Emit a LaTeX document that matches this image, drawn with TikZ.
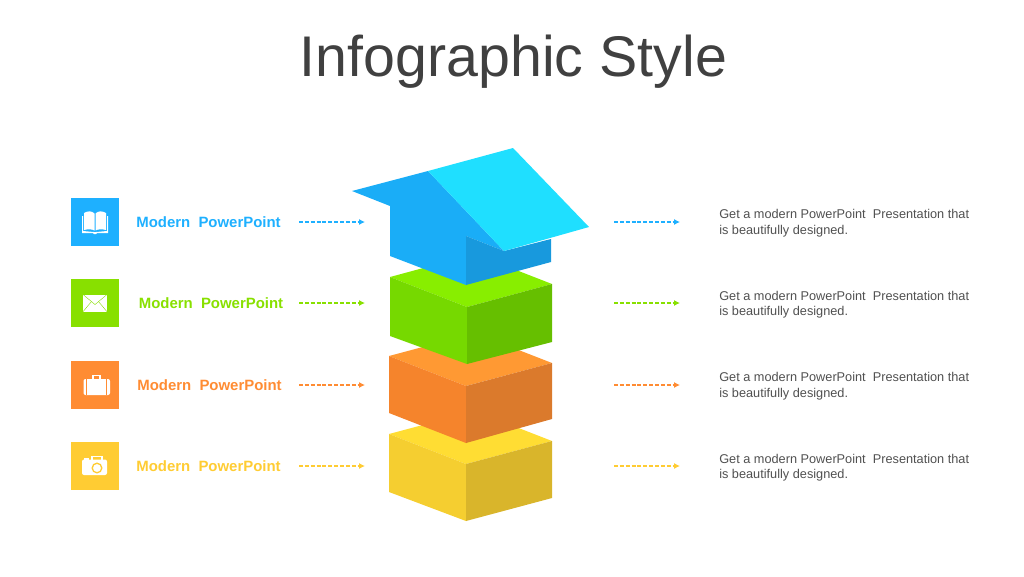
\documentclass[tikz,border=0pt]{standalone}
\usepackage{fontspec}
\usetikzlibrary{arrows.meta}
\setmainfont{Liberation Sans}
\definecolor{blueA}{HTML}{1AADF7}
\definecolor{blueB}{HTML}{1FDFFF}
\definecolor{blueC}{HTML}{1899DD}
\definecolor{blueI}{HTML}{1EB0FF}
\definecolor{greenA}{HTML}{76D900}
\definecolor{greenB}{HTML}{88EE00}
\definecolor{greenC}{HTML}{66BF00}
\definecolor{greenI}{HTML}{88E000}
\definecolor{orangeA}{HTML}{F5842C}
\definecolor{orangeB}{HTML}{FF9933}
\definecolor{orangeC}{HTML}{DB7A2C}
\definecolor{orangeI}{HTML}{FF8C33}
\definecolor{yellowA}{HTML}{F5CE30}
\definecolor{yellowB}{HTML}{FFDD33}
\definecolor{yellowC}{HTML}{D9B52B}
\definecolor{yellowI}{HTML}{FFCC33}
\definecolor{titlegray}{HTML}{404040}
\definecolor{notegray}{HTML}{505050}
\begin{document}
\begin{tikzpicture}[x=0.75pt,y=-0.75pt,
  tag/.style={font=\fontsize{11.2}{13}\selectfont\bfseries,inner sep=0pt},
  note/.style={font=\fontsize{9.55}{11.6}\selectfont,text=notegray,align=left,anchor=west,inner sep=0pt},
  link/.style={dash pattern=on 3pt off 1.4pt,-{Latex[length=4.5pt,width=4.5pt]},line width=0.8pt},
  tile/.style={minimum size=36pt,inner sep=0pt}]
\useasboundingbox (0,0) rectangle (1024,576);
\node[font=\fontsize{43}{50}\selectfont,text=titlegray,inner sep=0pt] (title) at (513.5,62) {Infographic Style};
% yellow box
\fill[yellowB] (389,434)--(475,411)--(552,441)--(466,464)--cycle;
\fill[yellowA] (389,434)--(466,464)--(466,521)--(389,492)--cycle;
\fill[yellowC] (466,464)--(552,441)--(552,498)--(466,521)--cycle;
% orange box
\fill[orangeB] (389,356)--(475,333)--(552,363)--(466,386)--cycle;
\fill[orangeA] (389,356)--(466,386)--(466,443)--(389,413)--cycle;
\fill[orangeC] (466,386)--(552,363)--(552,419)--(466,443)--cycle;
% green box
\fill[greenB] (390,277)--(475,254)--(552,284)--(467,307)--cycle;
\fill[greenA] (390,277)--(467,307)--(467,364)--(390,336)--cycle;
\fill[greenC] (467,307)--(552,284)--(552,342)--(467,364)--cycle;
% house
\fill[blueA] (352,191)--(428,171)--(504,251)--(466,236)--(466,285)--(390,256)--(390,206)--cycle;
\fill[blueC] (466,236)--(504,251)--(551,239)--(551,262)--(466,285)--cycle;
\fill[blueB] (428,171)--(513,148)--(589,227)--(504,251)--cycle;
% tiles
\node[tile,fill=blueI] (tileA) at (95,222) {};
\node[tile,fill=greenI] (tileB) at (95,303) {};
\node[tile,fill=orangeI] (tileC) at (95,385) {};
\node[tile,fill=yellowI] (tileD) at (95,466) {};
% book
\fill[white] (82,233)--(82,216)--(83,216)--(83,231)--(94,232)--(96,232)--(107,231)--(107,216)--(108,216)--(108,233)--(97,233)--(96,234)--(94,234)--(93,233)--cycle;
\fill[white] (84,213)..controls (88,210.5) and (92,211) .. (94.5,213.5)--(94.5,230.5)..controls (92,229) and (88,229) .. (84,230)--cycle;
\fill[white] (106,213)..controls (102,210.5) and (98,211) .. (95.5,213.5)--(95.5,230.5)..controls (98,229) and (102,229) .. (106,230)--cycle;
% envelope
\fill[white] (83,294.5) rectangle (107,311.7);
\draw[greenI,line width=0.3pt] (83,294.5)--(95,304.5)--(107,294.5);
\draw[greenI,line width=0.3pt] (83,311.7)--(91.5,301.5) (107,311.7)--(98.5,301.5);
% suitcase
\fill[white,rounded corners=1.5pt] (83.5,379) rectangle (110,395);
\draw[orangeI,line width=0.6pt] (86.5,379)--(86.5,395) (106.5,379)--(106.5,395);
\draw[white,line width=1pt] (93,379)--(93,375.5)--(100,375.5)--(100,379);
% camera
\fill[white,rounded corners=1.5pt] (82,459.5) rectangle (107,475);
\draw[white,line width=1pt] (92,460)--(92,456.5)--(102,456.5)--(102,460);
\fill[white] (84,458) rectangle (89,460);
\draw[yellowI,line width=1pt] (97,468) circle (4.8);
% labels
\node[tag,text=blueI] (labelA) at (208.5,222) {Modern\ \ PowerPoint};
\node[tag,text=greenI] (labelB) at (211,303.5) {Modern\ \ PowerPoint};
\node[tag,text=orangeI] (labelC) at (209.5,385) {Modern\ \ PowerPoint};
\node[tag,text=yellowI] (labelD) at (208.5,466.5) {Modern\ \ PowerPoint};
% notes
\node[note] (noteA) at (719,223) {Get a modern PowerPoint\ \ Presentation that\\is beautifully designed.};
\node[note] (noteB) at (719,304.5) {Get a modern PowerPoint\ \ Presentation that\\is beautifully designed.};
\node[note] (noteC) at (719,386) {Get a modern PowerPoint\ \ Presentation that\\is beautifully designed.};
\node[note] (noteD) at (719,467.5) {Get a modern PowerPoint\ \ Presentation that\\is beautifully designed.};
% arrow ends
\coordinate (PA) at (299,222);
\coordinate (QA) at (365,222);
\coordinate (RA) at (614,222);
\coordinate (SA) at (680,222);
\coordinate (PB) at (299,303);
\coordinate (QB) at (365,303);
\coordinate (RB) at (614,303);
\coordinate (SB) at (680,303);
\coordinate (PC) at (299,385);
\coordinate (QC) at (365,385);
\coordinate (RC) at (614,385);
\coordinate (SC) at (680,385);
\coordinate (PD) at (299,466);
\coordinate (QD) at (365,466);
\coordinate (RD) at (614,466);
\coordinate (SD) at (680,466);
\draw[link,blueI] (PA)--(QA);
\draw[link,blueI] (RA)--(SA);
\draw[link,greenI] (PB)--(QB);
\draw[link,greenI] (RB)--(SB);
\draw[link,orangeI] (PC)--(QC);
\draw[link,orangeI] (RC)--(SC);
\draw[link,yellowI] (PD)--(QD);
\draw[link,yellowI] (RD)--(SD);
\end{tikzpicture}
\end{document}
